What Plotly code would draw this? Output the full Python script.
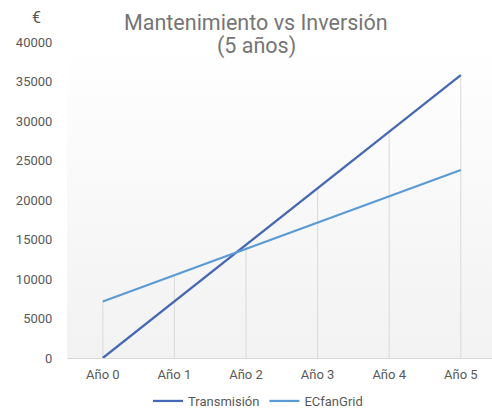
import plotly.graph_objects as go

categories = ["Año 0", "Año 1", "Año 2", "Año 3", "Año 4", "Año 5"]
transmision = [0, 7160, 14320, 21480, 28640, 35800]
ecfangrid = [7150, 10480, 13810, 17140, 20470, 23800]
y_ticks = [0, 5000, 10000, 15000, 20000, 25000, 30000, 35000, 40000]

L, R, T, B = 67, 0, 42, 51
W, H = 492, 409
PW, PH = W - L - R, H - T - B


def px_x(x):
    return (x - L) / PW


def px_y(y):
    return (H - B - y) / PH


fig = go.Figure()

# gradient background on hidden base axes
fig.add_trace(go.Scatter(
    x=[0, 1, 1, 0, 0], y=[0, 0, 1, 1, 0], mode="lines", fill="toself",
    line=dict(width=0, color="rgba(0,0,0,0)"),
    fillgradient=dict(type="vertical", colorscale=[[0, "#f2f2f2"], [1, "#ffffff"]]),
    showlegend=False, hoverinfo="skip", xaxis="x", yaxis="y"))

# drop lines from the highest point to the axis
dx, dy = [], []
for c, a, b in zip(categories, transmision, ecfangrid):
    dx += [c, c, None]
    dy += [0, max(a, b), None]
fig.add_trace(go.Scatter(x=dx, y=dy, mode="lines", line=dict(color="#d9d9d9", width=1),
                         showlegend=False, hoverinfo="skip", xaxis="x2", yaxis="y2"))

fig.add_trace(go.Scatter(x=categories, y=transmision, mode="lines", name="Transmisión",
                         line=dict(color="#4468b3", width=2.25), xaxis="x2", yaxis="y2"))
fig.add_trace(go.Scatter(x=categories, y=ecfangrid, mode="lines", name="ECfanGrid",
                         line=dict(color="#5b9bd5", width=2.25), xaxis="x2", yaxis="y2"))

fig.update_layout(
    width=W, height=H,
    margin=dict(l=L, r=R, t=T, b=B, autoexpand=False),
    paper_bgcolor="white", plot_bgcolor="white",
    font=dict(family="Roboto", size=13, color="#595959"),
    xaxis=dict(range=[0, 1], visible=False, fixedrange=True, automargin=False),
    yaxis=dict(range=[0, 1], visible=False, fixedrange=True, automargin=False),
    xaxis2=dict(overlaying="x", type="category", categoryorder="array", categoryarray=categories,
                range=[-0.5, 5.436], showgrid=False, showline=True, linecolor="#d9d9d9",
                linewidth=1, ticks="outside", ticklen=4, tickcolor="rgba(0,0,0,0)",
                tickfont=dict(size=13, color="#595959"), zeroline=False, automargin=False),
    yaxis2=dict(overlaying="y", range=[0, 40000], tickvals=y_ticks,
                ticktext=[str(v) for v in y_ticks], showgrid=False,
                zeroline=False, showline=False, ticks="outside", ticklen=11,
                tickcolor="rgba(0,0,0,0)", automargin=False,
                tickfont=dict(size=13, color="#595959")),
    legend=dict(orientation="h", x=258 / W, xanchor="center", xref="container",
                y=1 - 401 / H, yanchor="middle", yref="container",
                font=dict(size=13, color="#595959"), itemwidth=30, bgcolor="rgba(0,0,0,0)"),
    annotations=[
        dict(text="€", x=px_x(36), y=px_y(17), xref="paper", yref="paper",
             showarrow=False, xanchor="center", yanchor="middle",
             font=dict(size=16, color="#595959")),
        dict(text="Mantenimiento vs Inversión", x=px_x(256), y=px_y(22), xref="paper",
             yref="paper", showarrow=False, xanchor="center", yanchor="middle",
             font=dict(size=21.5, color="#757575")),
        dict(text="(5 años)", x=px_x(256), y=px_y(46), xref="paper",
             yref="paper", showarrow=False, xanchor="center", yanchor="middle",
             font=dict(size=21.5, color="#757575")),
    ],
)

fig.write_html("out.html", config={"displayModeBar": False},
               post_script="document.body.style.margin='0';document.body.style.overflow='hidden';")
